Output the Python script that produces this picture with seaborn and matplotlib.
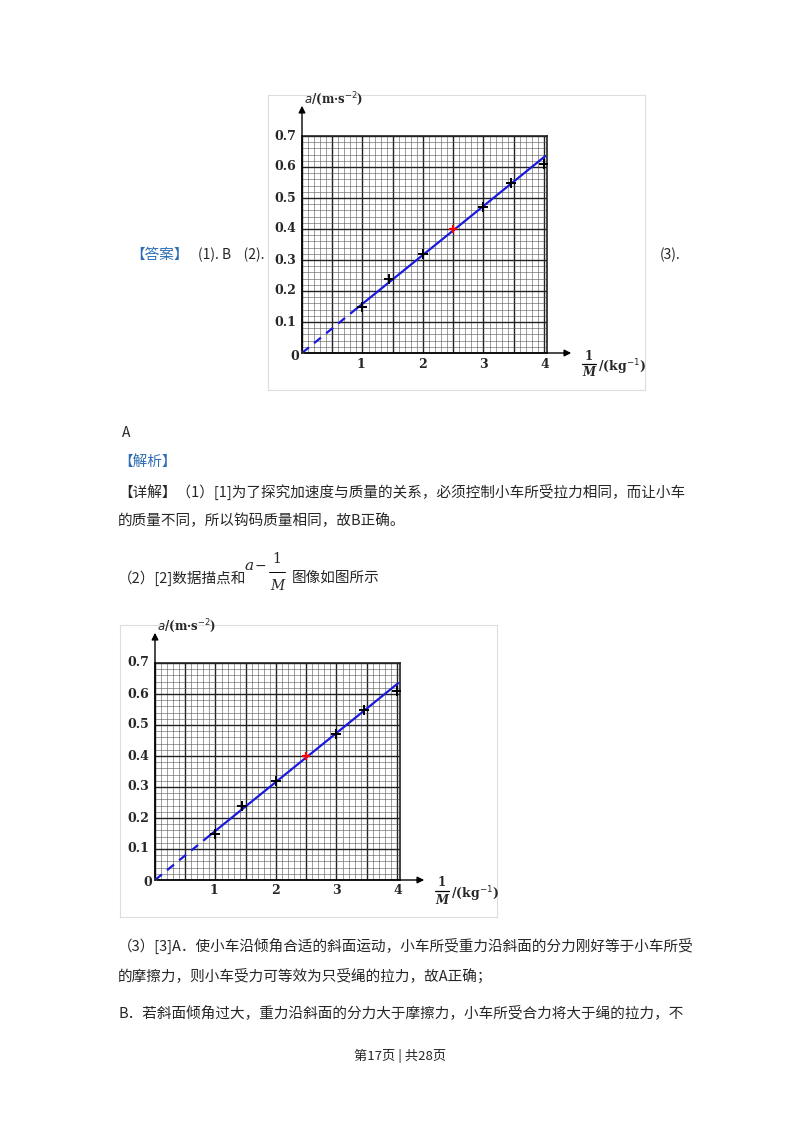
import numpy as np
import pandas as pd
import matplotlib.pyplot as plt
import matplotlib.patches as mpatches
import seaborn as sns

sns.set_style("white")
plt.rcParams['font.family'] = ['Noto Sans CJK SC', 'DejaVu Sans']

# data
inv_m = [1.0, 1.43, 2.0, 3.0, 3.45, 4.0]
accel = [0.15, 0.24, 0.32, 0.47, 0.55, 0.61]
red_pt = ([2.5], [0.40])
solid_x, solid_y = [0.9, 4.02], [0.143, 0.635]
dash_x, dash_y = [0.0, 0.9], [0.0, 0.143]
xticks = [1, 2, 3, 4]
yticks = [0.1, 0.2, 0.3, 0.4, 0.5, 0.6, 0.7]

W, H = 800, 1132
fig = plt.figure(figsize=(8, 11.32), dpi=100)


def px_axes(x0, y0, x1, y1):
    # pixel box (left, top, right, bottom) -> figure axes
    return fig.add_axes([x0 / W, 1 - y1 / H, (x1 - x0) / W, (y1 - y0) / H])


def txt(x, y, s, **kw):
    kw.setdefault("fontsize", 10)
    kw.setdefault("va", "center")
    fig.text(x / W, 1 - y / H, s, **kw)


def chart(frame, zero):
    fx0, fy0, fx1, fy1 = frame
    bg = px_axes(fx0, fy0, fx1, fy1)
    bg.set_xticks([]); bg.set_yticks([])
    for s in bg.spines.values():
        s.set_color("#dddddd")
    zx, zy = zero
    ax = px_axes(zx, zy - 217, zx + 245, zy)
    ax.set_xlim(0, 4); ax.set_ylim(0, 0.7)
    ax.set_xticks(np.arange(0, 4.01, 0.5)); ax.set_yticks(np.arange(0, 0.71, 0.1))
    ax.set_xticks(np.arange(0, 4.01, 0.1), minor=True)
    ax.set_yticks(np.arange(0, 0.71, 0.02), minor=True)
    ax.grid(True, which="major", color="#222222", lw=1.0)
    ax.grid(True, which="minor", color="#555555", lw=0.4)
    ax.set_xticklabels([]); ax.set_yticklabels([])
    ax.tick_params(length=0, which="both")
    for s in ax.spines.values():
        s.set_color("#222222"); s.set_lw(1.2)
    sns.lineplot(x=dash_x, y=dash_y, ax=ax, color="#1a1adf", lw=1.6, linestyle=(0, (4, 3)))
    sns.lineplot(x=solid_x, y=solid_y, ax=ax, color="#1a1adf", lw=1.6)
    sns.scatterplot(x=inv_m, y=accel, ax=ax, marker="+", s=45, color="black", linewidth=1.4, zorder=5)
    sns.scatterplot(x=red_pt[0], y=red_pt[1], ax=ax, marker="+", s=40, color="red", linewidth=1.6, zorder=6)
    ax.set_xlim(0, 4.05); ax.set_ylim(0, 0.7)
    # axis arrows
    fig.add_artist(mpatches.FancyArrowPatch((zx / W, 1 - zy / H), ((zx + 272) / W, 1 - zy / H),
                   arrowstyle="-|>", mutation_scale=10, color="black", lw=1, transform=fig.transFigure))
    fig.add_artist(mpatches.FancyArrowPatch((zx / W, 1 - zy / H), (zx / W, 1 - (zy - 250) / H),
                   arrowstyle="-|>", mutation_scale=10, color="black", lw=1, transform=fig.transFigure))
    for v in xticks:
        txt(zx + v * 61.3 - 2, zy + 11, str(v), ha="center", fontsize=9, family="DejaVu Serif", weight="bold")
    txt(zx - 7, zy + 3, "0", ha="center", fontsize=9, family="DejaVu Serif", weight="bold")
    for v in yticks:
        txt(zx - 6, zy - v * 310, f"{v:.1f}", ha="right", fontsize=9, family="DejaVu Serif", weight="bold")
    txt(zx + 2, zy - 254, r"$a$/(m·s$^{-2}$)", ha="left", fontsize=8.5, family="DejaVu Serif", weight="bold")
    # 1/M label as stacked fraction
    txt(zx + 287, zy + 3, "1", ha="center", fontsize=8.5, family="DejaVu Serif", weight="bold")
    fig.add_artist(plt.Line2D([(zx + 280) / W, (zx + 294) / W], [1 - (zy + 11) / H] * 2, color="black", lw=0.9))
    txt(zx + 287, zy + 20, "M", ha="center", fontsize=8.5, family="DejaVu Serif", style="italic", weight="bold")
    txt(zx + 296, zy + 14, "/(kg$^{-1}$)", ha="left", fontsize=9, family="DejaVu Serif", weight="bold")


chart((268, 95, 645, 390), (302, 353))
chart((120, 625, 497, 917), (155, 880))

blue = "#2e6db4"
txt(130, 255, "【答案】", color=blue, fontsize=10.5)
txt(198, 255, "(1). B    (2).", fontsize=10)
txt(660, 255, "(3).", fontsize=10)
txt(122, 433, "A", fontsize=10)
txt(118, 462, "【解析】", color=blue, fontsize=10.5)
txt(118, 492, "【详解】（1）[1]为了探究加速度与质量的关系，必须控制小车所受拉力相同，而让小车", fontsize=10.5)
txt(118, 521, "的质量不同，所以钩码质量相同，故B正确。", fontsize=10.5)
txt(118, 578, "（2）[2]数据描点和", fontsize=10.5)
txt(244, 566, "a", fontsize=11, family="DejaVu Serif", style="italic")
txt(255, 566, "−", fontsize=10, family="DejaVu Serif")
txt(277, 559, "1", fontsize=10, family="DejaVu Serif", ha="center")
fig.add_artist(plt.Line2D([269 / W, 285 / W], [1 - 572 / H, 1 - 572 / H], color="black", lw=0.7))
txt(277, 586, "M", fontsize=10, family="DejaVu Serif", style="italic", ha="center")
txt(292, 578, "图像如图所示", fontsize=10.5)
txt(118, 946, "（3）[3]A．使小车沿倾角合适的斜面运动，小车所受重力沿斜面的分力刚好等于小车所受", fontsize=10.5)
txt(118, 976, "的摩擦力，则小车受力可等效为只受绳的拉力，故A正确；", fontsize=10.5)
txt(118, 1013, "B．若斜面倾角过大，重力沿斜面的分力大于摩擦力，小车所受合力将大于绳的拉力，不", fontsize=10.5)
txt(400, 1056, "第17页 | 共28页", ha="center", fontsize=9.5)

fig.savefig("out.png", dpi=100)
